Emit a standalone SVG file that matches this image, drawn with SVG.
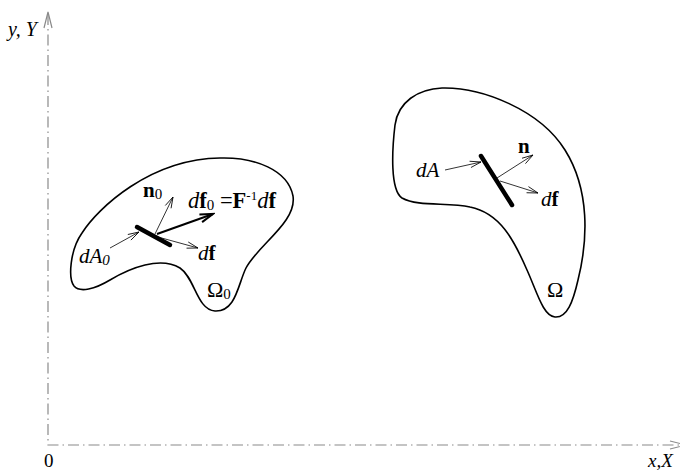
<svg xmlns="http://www.w3.org/2000/svg" width="680" height="470" viewBox="0 0 680 470">
<style>
.axis{fill:none;stroke:#8a8a8a;stroke-width:1.2;stroke-dasharray:11 4 1.5 4}
.axhead{fill:none;stroke:#8a8a8a;stroke-width:1.2}
.blob{fill:none;stroke:#000;stroke-width:1.6}
.el{stroke:#000;stroke-width:4.5;stroke-linecap:round}
.thin{fill:none;stroke:#000;stroke-width:0.8;marker-end:url(#ah)}
.thick{fill:none;stroke:#000;stroke-width:2;marker-end:url(#ahb)}
text{font-family:"Liberation Serif","Times New Roman",serif;fill:#000}
.lbl{font-size:21px}
.eq{font-size:22.5px}
.it{font-style:italic}
.b{font-weight:bold}
</style>
<defs>
<marker id="ah" markerUnits="userSpaceOnUse" viewBox="-12 -5 14 10" refX="0" refY="0" markerWidth="14" markerHeight="10" orient="auto">
<path d="M-11,-3.2 L0,0 L-11,3.2" fill="none" stroke="#000" stroke-width="0.8"/>
</marker>
<marker id="ahb" markerUnits="userSpaceOnUse" viewBox="-14 -6 16 12" refX="0" refY="0" markerWidth="16" markerHeight="12" orient="auto">
<path d="M-13,-4 L0,0 L-13,4" fill="none" stroke="#000" stroke-width="2"/>
</marker>
</defs>
<g id="axes">
<polyline class="axis" points="48,14 48,445 686,445"/>
<path class="axhead" d="M44,28 L48,12 L52,28"/>
<path class="axhead" d="M670,441 L686,445 L670,449"/>
<text x="8" y="36" font-size="20" class="it">y, Y</text>
<text x="44" y="467" font-size="19">0</text>
<text x="648" y="467" font-size="19" class="it">x,X</text>
</g>
<g id="body0">
<path class="blob" d="M220,158 C255,157 288,170 293,196 C297,222 258,245 246,268 C238,284 236,312 215,311 C197,310 195,278 180,268 C160,256 130,268 110,280 C95,289 80,293 74,286 C68,278 70,250 82,233 C98,208 150,159 220,158 Z"/>
<line class="el" x1="137" y1="227" x2="170" y2="245"/>
<text class="lbl" x="143" y="197"><tspan class="b">n</tspan><tspan font-size="15" dy="2">0</tspan></text>
<text class="eq" x="188" y="208"><tspan class="it">d</tspan><tspan class="b">f</tspan><tspan font-size="15" dy="2">0</tspan><tspan dy="-2"> =</tspan><tspan class="b">F</tspan><tspan font-size="13" dy="-8">-1</tspan><tspan class="it" dy="8">d</tspan><tspan class="b">f</tspan></text>
<text class="lbl it" x="79" y="263">dA<tspan font-size="15" dy="2">0</tspan></text>
<text class="lbl" x="198" y="260"><tspan class="it">d</tspan><tspan class="b">f</tspan></text>
<text x="207" y="297" font-size="22">Ω<tspan font-size="15" dy="2">0</tspan></text>
</g>
<g id="body">
<path class="blob" d="M442,88 C482,87 540,110 565,150 C590,190 588,240 578,280 C573,302 567,318 555,317 C543,316 537,292 527,270 C514,240 500,213 470,207 C448,202 418,207 402,198 C390,190 392,150 395,125 C398,102 418,89 442,88 Z"/>
<line class="el" x1="481" y1="156" x2="512" y2="205"/>
<text class="lbl it" x="416" y="177">dA</text>
<text class="lbl b" x="518" y="153">n</text>
<text class="lbl" x="541" y="206"><tspan class="it">d</tspan><tspan class="b">f</tspan></text>
<text x="547" y="297" font-size="22">Ω</text>
</g>
<g id="connectors">
<line class="thin" x1="110" y1="248" x2="139" y2="232"/>
<line class="thin" x1="155" y1="234" x2="173" y2="197"/>
<line class="thick" x1="157" y1="234" x2="213" y2="214"/>
<line class="thin" x1="158" y1="237" x2="198" y2="248"/>
<line class="thin" x1="445" y1="170" x2="481" y2="162"/>
<line class="thin" x1="497" y1="178" x2="533" y2="155"/>
<line class="thin" x1="500" y1="181" x2="538" y2="193"/>
</g>
</svg>
